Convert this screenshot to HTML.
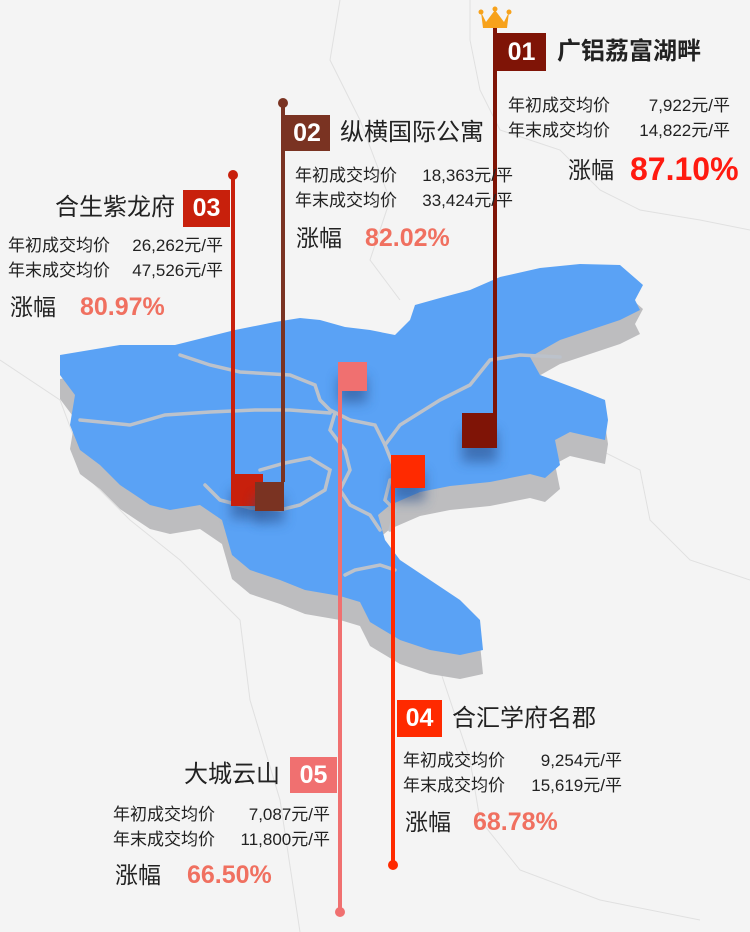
<!DOCTYPE html>
<html><head><meta charset="utf-8">
<style>
body{margin:0;width:750px;height:932px;overflow:hidden;background:#f4f4f4;font-family:"Liberation Sans","Noto Sans CJK SC",sans-serif;}
#wrap{position:relative;width:750px;height:932px;}
.t{position:absolute;white-space:nowrap;color:#222;}
.box{position:absolute;color:#fff;font-weight:bold;font-size:25px;text-align:center;}
.num{display:inline-block;text-align:right;}
</style></head><body>
<div id="wrap">
<svg id="map" width="750" height="932" style="position:absolute;left:0;top:0">
<defs><filter id="sh" x="-50%" y="-50%" width="200%" height="200%"><feGaussianBlur stdDeviation="6"/></filter></defs>
<g id="bgl" stroke="#e0e0e0" fill="none" stroke-width="1">
<path d="M470,0 L470,40 L480,90 L500,130 L560,150 L600,190 L640,210 L700,220 L750,230"/>
<path d="M600,450 L640,470 L650,520 L690,560 L750,580"/>
<path d="M430,640 L450,700 L470,760 L480,820 L520,870 L600,900 L700,920"/>
<path d="M0,360 L60,400 L90,480 L130,520 L180,560 L240,620 L250,700 L280,800 L300,932"/>
<path d="M340,0 L330,60 L360,120 L390,200 L370,260 L400,300"/>
</g>
<polygon id="shadow" fill="#bdbdbf" transform="translate(0,24)"/>
<polygon id="land" fill="#5aa2f5"/>
<g fill="none" stroke="#bcc2cb" stroke-width="3.5" stroke-linecap="round">
<path d="M180,355 L210,365 L240,372 L290,375 L315,385 L320,400 L330,410 L350,420 L375,425 L385,445 L395,470"/>
<path d="M80,420 L130,425 L165,415 L210,412 L255,410 L290,410 L330,413"/>
<path d="M385,445 L400,425 L440,400 L470,385 L490,360 L520,355 L560,357"/>
<path d="M260,470 L285,463 L310,458 L330,470 L325,490 L300,505 L280,510 L250,508 L220,500 L205,485"/>
<path d="M335,413 L330,430 L345,450 L350,470 L340,490 L350,505 L370,515 L380,530"/>
<path d="M345,575 L355,570 L380,565 L395,570"/>
<path d="M390,480 L385,500 L395,510 L390,530"/>
</g>
<g id="marks"></g>
</svg>
<div id="labels"></div>
</div>
<script>
const names=["广铝荔富湖畔","纵横国际公寓","合生紫龙府","合汇学府名郡","大城云山"];
const nums=["01","02","03","04","05"];
const startPrice=["7,922","18,363","26,262","9,254","7,087"];
const endPrice=["14,822","33,424","47,526","15,619","11,800"];
const growth=["87.10%","82.02%","80.97%","68.78%","66.50%"];
const colors=["#7f1406","#7a3322","#c8200c","#ff2a00","#f07070"];
const pctColors=["#ff1a10","#f07060","#f07060","#f07060","#f07060"];
// layout (not data)
const L=[
 {sq:[462,413,35],line:[495,28,413],box:[497,33,49,38],title:[557,52,true],rows:[508,106,730],gx:[568,170],gv:[630,32]},
 {sq:[255,482,29],line:[283,103,482],box:[284,115,46,36],title:[340,133,false],rows:[295,176,513],gx:[296,238],gv:[365,25]},
 {sq:[231,474,32],line:[233,175,474],box:[183,190,47,37],title:[175,208,false,true],rows:[8,246,223],gx:[10,307],gv:[80,25]},
 {sq:[392,455,33],line:[393,455,865],box:[397,700,45,37],title:[452,719,false],rows:[403,761,622],gx:[405,822],gv:[473,25]},
 {sq:[338,362,29],line:[340,362,912],box:[290,757,47,36],title:[280,775,false,true],rows:[113,815,330],gx:[115,875],gv:[187,25]}
];
const poly=[[60,355],[120,345],[175,345],[235,330],[275,322],[300,318],[320,320],[345,327],[370,330],[395,335],[410,320],[415,305],[440,298],[470,290],[500,277],[540,268],[580,264],[620,265],[643,285],[635,300],[640,310],[620,320],[560,340],[530,357],[540,375],[580,390],[605,400],[608,420],[605,440],[570,432],[555,440],[560,465],[545,478],[530,474],[490,482],[450,486],[420,492],[390,505],[378,515],[385,540],[400,560],[430,580],[460,600],[480,620],[483,650],[460,655],[430,650],[400,640],[370,622],[360,602],[340,596],[305,590],[280,580],[250,570],[232,555],[222,520],[200,505],[170,510],[150,505],[120,485],[100,465],[80,450],[70,425],[75,395],[60,375]];
const ps=poly.map(p=>p.join(",")).join(" ");
document.getElementById("shadow").setAttribute("points",ps);
document.getElementById("land").setAttribute("points",ps);
const NS="http://www.w3.org/2000/svg";
const g=document.getElementById("marks");
function mk(tag,a){const e=document.createElementNS(NS,tag);for(const k in a)e.setAttribute(k,a[k]);g.appendChild(e);return e;}
const order=[0,3,4,2,1];
order.forEach(i=>{
 const l=L[i],c=colors[i];
 const s=mk("rect",{x:l.sq[0],y:l.sq[1]+l.sq[2]*0.5,width:l.sq[2],height:l.sq[2]*0.9,fill:"#2a4f8a",opacity:0.6,filter:"url(#sh)"});
 
 
 const r=mk("rect",{x:l.sq[0],y:l.sq[1],width:l.sq[2],height:l.sq[2],fill:c});
 
 
 const ln=mk("rect",{x:l.line[0]-2,y:l.line[1],width:4,height:l.line[2]-l.line[1],fill:c});
 
 
 if(i!==0){const d=mk("circle",{cx:l.line[0],cy:(i>=3?l.line[2]:l.line[1]),r:5,fill:c});
 
 }
});
const cr=mk("path",{d:"M481,12 L486,22 L495,10 L504,22 L509,12 L507,28 L483,28 Z",fill:"#f7a21b"});


[[481,12],[495,9],[509,12]].forEach(p=>{const c=mk("circle",{cx:p[0],cy:p[1],r:2.5,fill:"#f7a21b"});});
const lab=document.getElementById("labels");
function div(cls,css,txt){const d=document.createElement("div");d.className=cls;d.style.cssText=css;d.textContent=txt;lab.appendChild(d);return d;}
function row(l,y,label,val){
 const d=document.createElement("div");d.className="t";
 d.style.cssText=`left:${l.rows[0]}px;top:${y}px;width:${l.rows[2]-l.rows[0]}px;font-size:17px;line-height:22px;display:flex;justify-content:space-between`;
 const a=document.createElement("span");a.textContent=label;
 const b=document.createElement("span");b.textContent=val+"元/平";
 d.appendChild(a);d.appendChild(b);lab.appendChild(d);return d;
}
L.forEach((l,i)=>{
 const b=div("box",`left:${l.box[0]}px;top:${l.box[1]}px;width:${l.box[2]}px;height:${l.box[3]}px;line-height:${l.box[3]}px;background:${colors[i]}`,nums[i]);
 
 
 const tcss=l.title[3]?`right:${750-l.title[0]}px;`:`left:${l.title[0]}px;`;
 const t=div("t",tcss+`top:${l.title[1]-15}px;font-size:24px;line-height:30px;font-weight:${l.title[2]?'bold':'normal'}`,names[i]);
 
 
 const r1=row(l,l.rows[1]-11,"年初成交均价",startPrice[i]);
 
 
 const r2=row(l,l.rows[1]+14,"年末成交均价",endPrice[i]);
 
 
 const gl=div("t",`left:${l.gx[0]}px;top:${l.gx[1]-15}px;font-size:23px;line-height:30px`,"涨幅");
 
 
 const gv=div("t",`left:${l.gv[0]}px;top:${l.gx[1]-l.gv[1]*0.65}px;font-size:${l.gv[1]}px;line-height:${l.gv[1]*1.3}px;font-weight:bold;color:${pctColors[i]}`,growth[i]);
 
 
});
</script>
</body></html>
